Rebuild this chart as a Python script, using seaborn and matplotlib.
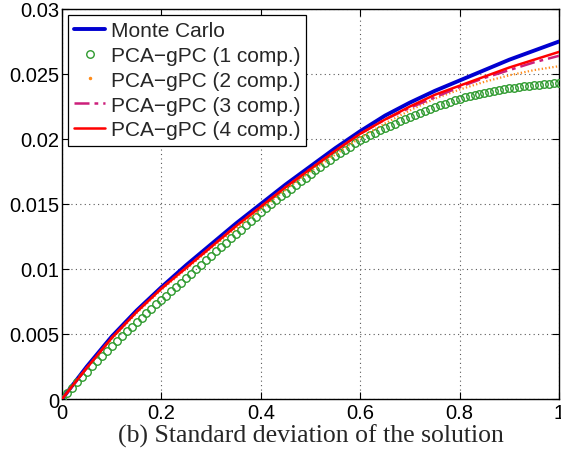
import matplotlib
matplotlib.use("Agg")
import matplotlib.pyplot as plt
from matplotlib.lines import Line2D
import numpy as np
import pandas as pd
import seaborn as sns

# x positions of the curves (read every 0.05)
x_line = np.round(np.arange(0, 1.0001, 0.05), 2)

monte_carlo = [0, 0.0025, 0.0048, 0.0068, 0.0086, 0.0103, 0.0119, 0.0135, 0.0150, 0.0165, 0.0179,
               0.0193, 0.0206, 0.0218, 0.0228, 0.0237, 0.0245, 0.0253, 0.0261, 0.0268, 0.0275]
comp2 = [0, 0.0024, 0.0046, 0.0066, 0.0084, 0.0100, 0.0116, 0.0131, 0.0146, 0.0161, 0.0175,
         0.0188, 0.0201, 0.0212, 0.0222, 0.0231, 0.0238, 0.0244, 0.0249, 0.0253, 0.0256]
comp3 = [0, 0.0024, 0.0047, 0.0067, 0.0085, 0.0101, 0.0117, 0.0133, 0.0148, 0.0163, 0.0177,
         0.0191, 0.0204, 0.0215, 0.0224, 0.0232, 0.0240, 0.0247, 0.0253, 0.0259, 0.0264]
comp4 = [0, 0.0024, 0.0047, 0.0067, 0.0085, 0.0101, 0.0117, 0.0133, 0.0148, 0.0163, 0.0177,
         0.0191, 0.0204, 0.0215, 0.0225, 0.0234, 0.0241, 0.0248, 0.0255, 0.0261, 0.0267]

# 1 component curve is drawn with circles, read every 0.01
x_circ = np.round(np.arange(0, 1.0001, 0.01), 2)
comp1 = [0.0, 0.00043, 0.00086, 0.00128, 0.00170, 0.00211, 0.00252, 0.00292, 0.00332, 0.00371, 0.00410,
         0.00447, 0.00484, 0.00520, 0.00556, 0.00591, 0.00626, 0.00660, 0.00694, 0.00727, 0.00760,
         0.00794, 0.00828, 0.00862, 0.00896, 0.00930, 0.00964, 0.00998, 0.01032, 0.01066, 0.01100,
         0.01135, 0.01169, 0.01203, 0.01237, 0.01270, 0.01303, 0.01336, 0.01369, 0.01402, 0.01435,
         0.01466, 0.01497, 0.01528, 0.01558, 0.01588, 0.01617, 0.01646, 0.01674, 0.01702, 0.01730,
         0.01758, 0.01786, 0.01813, 0.01840, 0.01866, 0.01892, 0.01917, 0.01942, 0.01966, 0.01990,
         0.02010, 0.02029, 0.02048, 0.02066, 0.02084, 0.02102, 0.02119, 0.02136, 0.02153, 0.02170,
         0.02186, 0.02201, 0.02216, 0.02230, 0.02244, 0.02258, 0.02271, 0.02284, 0.02297, 0.02310,
         0.02321, 0.02331, 0.02340, 0.02349, 0.02357, 0.02365, 0.02372, 0.02378, 0.02384, 0.02390,
         0.02396, 0.02401, 0.02406, 0.02410, 0.02414, 0.02418, 0.02421, 0.02424, 0.02427, 0.02430]

labels = ["Monte Carlo", "PCA\u2212gPC (1 comp.)", "PCA\u2212gPC (2 comp.)",
          "PCA\u2212gPC (3 comp.)", "PCA\u2212gPC (4 comp.)"]
x_ticks = [0, 0.2, 0.4, 0.6, 0.8, 1]
x_ticklabels = ["0", "0.2", "0.4", "0.6", "0.8", "1"]
y_ticks = [0, 0.005, 0.01, 0.015, 0.02, 0.025, 0.03]
y_ticklabels = ["0", "0.005", "0.01", "0.015", "0.02", "0.025", "0.03"]
caption = "(b) Standard deviation of the solution"

sns.set_style("white")
plt.rcParams['font.family'] = ['Liberation Sans', 'DejaVu Sans']

c_blue = "#0000d0"
c_green = "#2e9a2e"
c_orange = "#ff8c1a"
c_mag = "#cc1f7a"
c_red = "#ff0000"

fig = plt.figure(figsize=(5.61, 4.52), dpi=100)
ax = fig.add_axes([62 / 561, 1 - 400 / 452, 497 / 561, 390 / 452])

lines = pd.DataFrame({"x": x_line, "mc": monte_carlo, "c2": comp2, "c3": comp3, "c4": comp4})
circ = pd.DataFrame({"x": x_circ, "c1": comp1})

sns.lineplot(data=lines, x="x", y="mc", ax=ax, color=c_blue, linewidth=2.8, zorder=3)
ax.plot(circ["x"], circ["c1"], linestyle="none", marker="o", markersize=5.4,
        markerfacecolor="none", markeredgecolor=c_green, markeredgewidth=1.0, zorder=4)
sns.lineplot(data=lines, x="x", y="c2", ax=ax, color=c_orange, linewidth=1.6,
             linestyle=(0, (0.6, 1.0)), zorder=5)
sns.lineplot(data=lines, x="x", y="c3", ax=ax, color=c_mag, linewidth=1.8,
             linestyle=(0, (6, 2, 1.5, 2)), zorder=6)
sns.lineplot(data=lines, x="x", y="c4", ax=ax, color=c_red, linewidth=1.8, zorder=7)

ax.set_xlim(0, 1)
ax.set_ylim(0, 0.03)
ax.set_xticks(x_ticks)
ax.set_xticklabels(x_ticklabels)
ax.set_yticks(y_ticks)
ax.set_yticklabels(y_ticklabels)
ax.tick_params(direction="in", length=5, width=0.8, labelsize=14.5, top=True, right=True,
               bottom=True, left=True, colors="black")
ax.tick_params(axis="x", pad=3)
ax.tick_params(axis="y", pad=2)
ax.grid(True, linestyle=(0, (1, 3)), color="0.35", linewidth=0.8)
for sp in ax.spines.values():
    sp.set_color("black")
    sp.set_linewidth(1.0)

ax.set_ylabel("")
ax.set_xlabel("")
fig.text(311 / 561, 9 / 452, caption, ha="center", va="baseline",
         fontfamily=["Liberation Serif", "DejaVu Serif"], fontsize=18.5)

handles = [
    Line2D([], [], color=c_blue, linewidth=2.8),
    Line2D([], [], linestyle="none", marker="o", markersize=5.4, markerfacecolor="none",
           markeredgecolor=c_green, markeredgewidth=1.0),
    Line2D([], [], linestyle="none", marker=".", markersize=3, color=c_orange),
    Line2D([], [], color=c_mag, linewidth=1.8, linestyle=(0, (6, 2, 1.5, 2))),
    Line2D([], [], color=c_red, linewidth=1.8),
]
leg = ax.legend(handles, labels, loc="upper left", fontsize=15, frameon=True, fancybox=False,
                edgecolor="black", framealpha=1, borderaxespad=0.28, handlelength=1.5,
                handletextpad=0.25, labelspacing=0.28, borderpad=0.3)
leg.get_frame().set_linewidth(0.9)

fig.savefig("out.png", dpi=100)
